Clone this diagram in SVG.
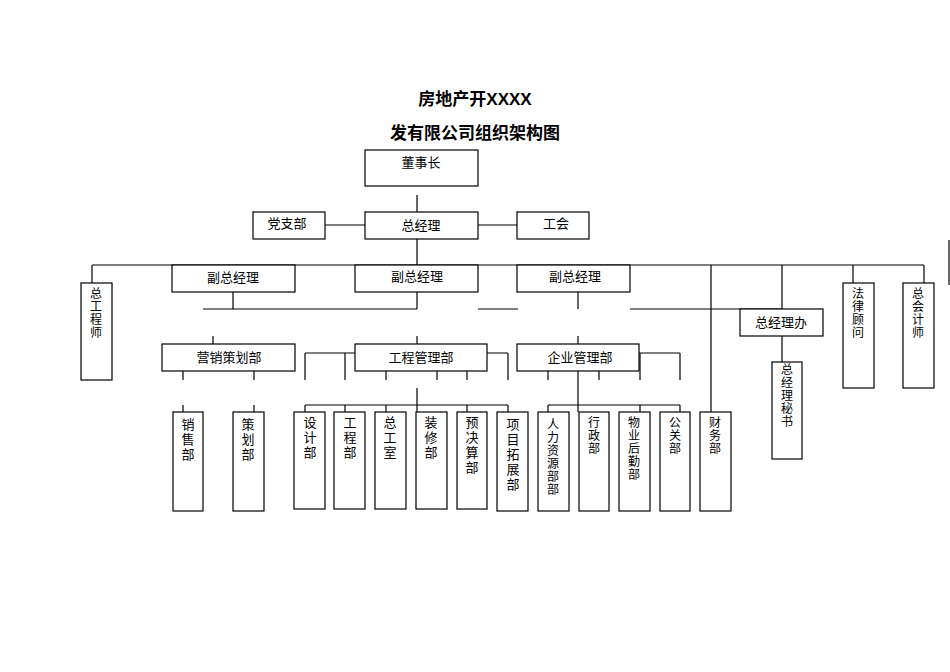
<svg xmlns="http://www.w3.org/2000/svg" width="950" height="672" viewBox="0 0 950 672">
<style>
rect{fill:#fff;stroke:#000;stroke-width:1.2}
text{font-family:"Noto Sans CJK SC",sans-serif;font-size:13px;text-anchor:middle;fill:#000}
.t{font-size:17px;font-weight:bold}
.v{writing-mode:tb;text-anchor:start;letter-spacing:2px}
.s{font-size:12px;letter-spacing:1px}
#c line{stroke:#000;stroke-width:1.2}
</style>
<rect x="0" y="0" width="950" height="672" style="stroke:none"/>
<text class="t" x="475" y="105">房地产开<tspan font-family="Liberation Sans">XXXX</tspan></text>
<text class="t" x="475" y="139">发有限公司组织架构图</text>
<g id="c">
<line x1="417" y1="195" x2="417" y2="212"/>
<line x1="325" y1="225" x2="365" y2="225"/>
<line x1="478" y1="225" x2="517" y2="225"/>
<line x1="417" y1="239" x2="417" y2="265"/>
<line x1="92" y1="265" x2="924" y2="265"/>
<line x1="92" y1="265" x2="92" y2="283"/>
<line x1="853" y1="265" x2="853" y2="283"/>
<line x1="924" y1="265" x2="924" y2="283"/>
<line x1="233" y1="292" x2="233" y2="309"/>
<line x1="417" y1="292" x2="417" y2="309"/>
<line x1="578" y1="292" x2="578" y2="309"/>
<line x1="203" y1="309" x2="417" y2="309"/>
<line x1="478" y1="309" x2="518" y2="309"/>
<line x1="630" y1="309" x2="782" y2="309"/>
<line x1="782" y1="265" x2="782" y2="309"/>
<line x1="782" y1="336" x2="782" y2="362"/>
<line x1="711" y1="265" x2="711" y2="412"/>
<line x1="213" y1="336" x2="213" y2="344"/>
<line x1="417" y1="336" x2="417" y2="344"/>
<line x1="578" y1="336" x2="578" y2="344"/>
<line x1="183" y1="353" x2="254" y2="353"/>
<line x1="183" y1="353" x2="183" y2="380"/>
<line x1="254" y1="353" x2="254" y2="380"/>
<line x1="305" y1="353" x2="508" y2="353"/>
<line x1="305" y1="353" x2="305" y2="380"/>
<line x1="345" y1="353" x2="345" y2="380"/>
<line x1="386" y1="353" x2="386" y2="380"/>
<line x1="437" y1="353" x2="437" y2="380"/>
<line x1="467" y1="353" x2="467" y2="380"/>
<line x1="508" y1="353" x2="508" y2="380"/>
<line x1="548" y1="353" x2="680" y2="353"/>
<line x1="548" y1="353" x2="548" y2="380"/>
<line x1="599" y1="353" x2="599" y2="380"/>
<line x1="640" y1="353" x2="640" y2="380"/>
<line x1="680" y1="353" x2="680" y2="380"/>
<line x1="578" y1="371" x2="578" y2="412"/>
<line x1="183" y1="405" x2="183" y2="412"/>
<line x1="254" y1="405" x2="254" y2="412"/>
<line x1="417" y1="388" x2="417" y2="412"/>
<line x1="305" y1="405" x2="508" y2="405"/>
<line x1="305" y1="405" x2="305" y2="412"/>
<line x1="345" y1="405" x2="345" y2="412"/>
<line x1="386" y1="405" x2="386" y2="412"/>
<line x1="467" y1="405" x2="467" y2="412"/>
<line x1="508" y1="405" x2="508" y2="412"/>
<line x1="548" y1="405" x2="680" y2="405"/>
<line x1="548" y1="405" x2="548" y2="412"/>
<line x1="640" y1="405" x2="640" y2="412"/>
<line x1="680" y1="405" x2="680" y2="412"/>
<line x1="949" y1="240" x2="949" y2="285"/>
</g>
<g id="n1"><rect x="365" y="150" width="113" height="36"/><text x="421" y="167">董事长</text></g>
<g id="n2"><rect x="253" y="212" width="72" height="27"/><text x="287" y="228">党支部</text></g>
<g id="n3"><rect x="365" y="212" width="113" height="27"/><text x="421" y="230">总经理</text></g>
<g id="n4"><rect x="517" y="212" width="72" height="27"/><text x="556" y="228">工会</text></g>
<g id="n5"><rect x="172" y="265" width="123" height="27"/><text x="233" y="282">副总经理</text></g>
<g id="n6"><rect x="355" y="265" width="123" height="27"/><text x="417" y="281">副总经理</text></g>
<g id="n7"><rect x="517" y="265" width="113" height="27"/><text x="575" y="281">副总经理</text></g>
<g id="n8"><rect x="81" y="283" width="31" height="97"/><text class="v s" x="96" y="287">总工程师</text></g>
<g id="n9"><rect x="843" y="283" width="31" height="105"/><text class="v s" x="858" y="287">法律顾问</text></g>
<g id="n10"><rect x="903" y="283" width="31" height="105"/><text class="v s" x="918" y="287">总会计师</text></g>
<g id="n11"><rect x="740" y="309" width="83" height="27"/><text x="781" y="327">总经理办</text></g>
<g id="n12"><rect x="772" y="362" width="30" height="97"/><text class="v s" x="787" y="363">总经理秘书</text></g>
<g id="n13"><rect x="162" y="344" width="133" height="27"/><text x="229" y="362">营销策划部</text></g>
<g id="n14"><rect x="355" y="344" width="132" height="27"/><text x="421" y="362">工程管理部</text></g>
<g id="n15"><rect x="517" y="344" width="122" height="27"/><text x="580" y="362">企业管理部</text></g>
<g id="n16"><rect x="173" y="412" width="30" height="99"/><text class="v" x="188" y="418">销售部</text></g>
<g id="n17"><rect x="233" y="412" width="31" height="99"/><text class="v" x="248" y="418">策划部</text></g>
<g id="n18"><rect x="294" y="412" width="31" height="97"/><text class="v" x="310" y="416">设计部</text></g>
<g id="n19"><rect x="334" y="412" width="31" height="97"/><text class="v" x="350" y="416">工程部</text></g>
<g id="n20"><rect x="375" y="412" width="31" height="97"/><text class="v" x="390" y="416">总工室</text></g>
<g id="n21"><rect x="416" y="412" width="31" height="97"/><text class="v" x="431" y="416">装修部</text></g>
<g id="n22"><rect x="457" y="412" width="30" height="97"/><text class="v" x="472" y="416">预决算部</text></g>
<g id="n23"><rect x="497" y="412" width="31" height="99"/><text class="v" x="513" y="418">项目拓展部</text></g>
<g id="n24"><rect x="538" y="412" width="31" height="99"/><text class="v s" x="553" y="418">人力资源部部</text></g>
<g id="n25"><rect x="579" y="412" width="30" height="99"/><text class="v s" x="594" y="416">行政部</text></g>
<g id="n26"><rect x="619" y="412" width="31" height="99"/><text class="v s" x="634" y="416">物业后勤部</text></g>
<g id="n27"><rect x="660" y="412" width="30" height="99"/><text class="v s" x="675" y="416">公关部</text></g>
<g id="n28"><rect x="700" y="412" width="31" height="99"/><text class="v s" x="715" y="416">财务部</text></g>
</svg>
